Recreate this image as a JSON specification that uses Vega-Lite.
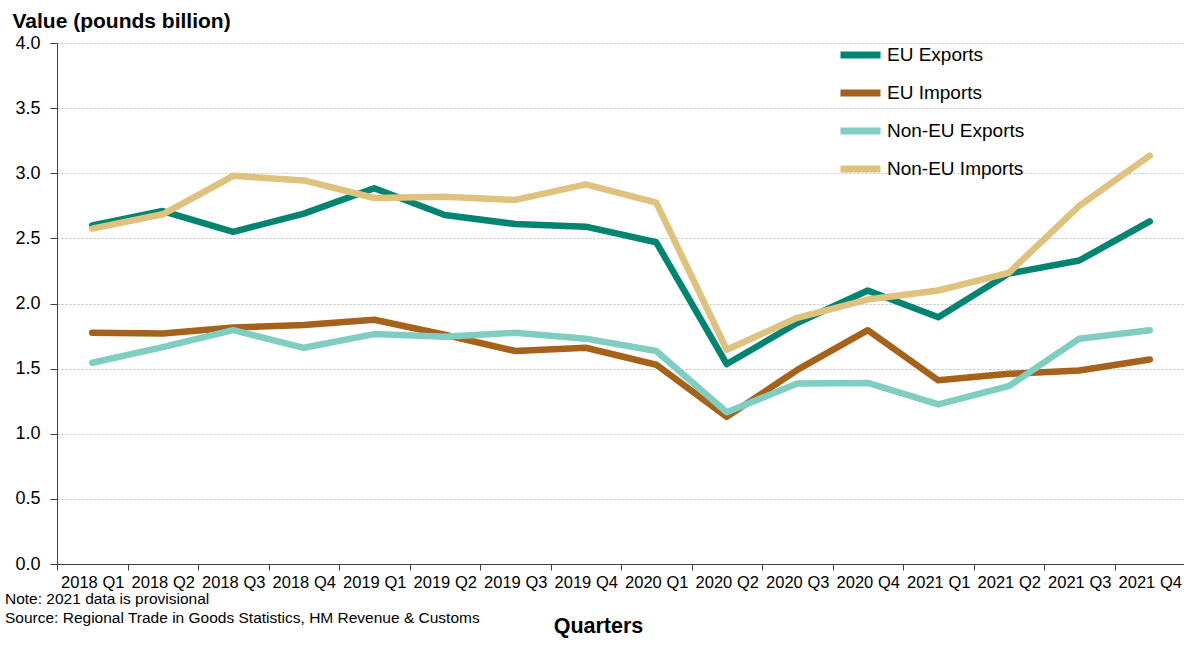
{
  "$schema": "https://vega.github.io/schema/vega-lite/v6.json",
  "autosize": {"type": "none"},
  "padding": {"left": 57, "top": 43, "right": 0, "bottom": 89},
  "width": 1128,
  "height": 521,
  "background": "white",
  "title": {
    "text": ["Note: 2021 data is provisional", "Source: Regional Trade in Goods Statistics, HM Revenue & Customs"],
    "orient": "bottom",
    "anchor": "start",
    "frame": "group",
    "dx": -52,
    "dy": -45,
    "offset": 0,
    "font": "Liberation Sans",
    "fontSize": 15.5,
    "fontWeight": "normal",
    "lineHeight": 19,
    "color": "#000000"
  },
  "config": {
    "view": {"stroke": null},
    "font": "Liberation Sans"
  },
  "data": {
    "values": [
      {"q": "2018 Q1", "series": "EU Exports", "v": 2.60},
      {"q": "2018 Q1", "series": "EU Imports", "v": 1.775},
      {"q": "2018 Q1", "series": "Non-EU Exports", "v": 1.545},
      {"q": "2018 Q1", "series": "Non-EU Imports", "v": 2.575},
      {"q": "2018 Q2", "series": "EU Exports", "v": 2.71},
      {"q": "2018 Q2", "series": "EU Imports", "v": 1.77},
      {"q": "2018 Q2", "series": "Non-EU Exports", "v": 1.665},
      {"q": "2018 Q2", "series": "Non-EU Imports", "v": 2.685},
      {"q": "2018 Q3", "series": "EU Exports", "v": 2.55},
      {"q": "2018 Q3", "series": "EU Imports", "v": 1.815},
      {"q": "2018 Q3", "series": "Non-EU Exports", "v": 1.795},
      {"q": "2018 Q3", "series": "Non-EU Imports", "v": 2.98},
      {"q": "2018 Q4", "series": "EU Exports", "v": 2.69},
      {"q": "2018 Q4", "series": "EU Imports", "v": 1.835},
      {"q": "2018 Q4", "series": "Non-EU Exports", "v": 1.66},
      {"q": "2018 Q4", "series": "Non-EU Imports", "v": 2.945},
      {"q": "2019 Q1", "series": "EU Exports", "v": 2.885},
      {"q": "2019 Q1", "series": "EU Imports", "v": 1.875},
      {"q": "2019 Q1", "series": "Non-EU Exports", "v": 1.765},
      {"q": "2019 Q1", "series": "Non-EU Imports", "v": 2.81},
      {"q": "2019 Q2", "series": "EU Exports", "v": 2.68},
      {"q": "2019 Q2", "series": "EU Imports", "v": 1.76},
      {"q": "2019 Q2", "series": "Non-EU Exports", "v": 1.745},
      {"q": "2019 Q2", "series": "Non-EU Imports", "v": 2.82},
      {"q": "2019 Q3", "series": "EU Exports", "v": 2.61},
      {"q": "2019 Q3", "series": "EU Imports", "v": 1.635},
      {"q": "2019 Q3", "series": "Non-EU Exports", "v": 1.775},
      {"q": "2019 Q3", "series": "Non-EU Imports", "v": 2.795},
      {"q": "2019 Q4", "series": "EU Exports", "v": 2.59},
      {"q": "2019 Q4", "series": "EU Imports", "v": 1.66},
      {"q": "2019 Q4", "series": "Non-EU Exports", "v": 1.73},
      {"q": "2019 Q4", "series": "Non-EU Imports", "v": 2.915},
      {"q": "2020 Q1", "series": "EU Exports", "v": 2.47},
      {"q": "2020 Q1", "series": "EU Imports", "v": 1.53},
      {"q": "2020 Q1", "series": "Non-EU Exports", "v": 1.635},
      {"q": "2020 Q1", "series": "Non-EU Imports", "v": 2.775},
      {"q": "2020 Q2", "series": "EU Exports", "v": 1.535},
      {"q": "2020 Q2", "series": "EU Imports", "v": 1.13},
      {"q": "2020 Q2", "series": "Non-EU Exports", "v": 1.165},
      {"q": "2020 Q2", "series": "Non-EU Imports", "v": 1.645},
      {"q": "2020 Q3", "series": "EU Exports", "v": 1.85},
      {"q": "2020 Q3", "series": "EU Imports", "v": 1.49},
      {"q": "2020 Q3", "series": "Non-EU Exports", "v": 1.385},
      {"q": "2020 Q3", "series": "Non-EU Imports", "v": 1.89},
      {"q": "2020 Q4", "series": "EU Exports", "v": 2.10},
      {"q": "2020 Q4", "series": "EU Imports", "v": 1.795},
      {"q": "2020 Q4", "series": "Non-EU Exports", "v": 1.39},
      {"q": "2020 Q4", "series": "Non-EU Imports", "v": 2.03},
      {"q": "2021 Q1", "series": "EU Exports", "v": 1.895},
      {"q": "2021 Q1", "series": "EU Imports", "v": 1.41},
      {"q": "2021 Q1", "series": "Non-EU Exports", "v": 1.225},
      {"q": "2021 Q1", "series": "Non-EU Imports", "v": 2.10},
      {"q": "2021 Q2", "series": "EU Exports", "v": 2.23},
      {"q": "2021 Q2", "series": "EU Imports", "v": 1.46},
      {"q": "2021 Q2", "series": "Non-EU Exports", "v": 1.365},
      {"q": "2021 Q2", "series": "Non-EU Imports", "v": 2.235},
      {"q": "2021 Q3", "series": "EU Exports", "v": 2.33},
      {"q": "2021 Q3", "series": "EU Imports", "v": 1.485},
      {"q": "2021 Q3", "series": "Non-EU Exports", "v": 1.73},
      {"q": "2021 Q3", "series": "Non-EU Imports", "v": 2.75},
      {"q": "2021 Q4", "series": "EU Exports", "v": 2.63},
      {"q": "2021 Q4", "series": "EU Imports", "v": 1.57},
      {"q": "2021 Q4", "series": "Non-EU Exports", "v": 1.795},
      {"q": "2021 Q4", "series": "Non-EU Imports", "v": 3.135}
    ]
  },
  "mark": {"type": "line", "strokeWidth": 6.5, "strokeCap": "round", "strokeJoin": "round"},
  "encoding": {
    "x": {
      "field": "q",
      "type": "ordinal",
      "sort": null,
      "scale": {"type": "band", "paddingInner": 0, "paddingOuter": 0},
      "axis": {
        "title": "Quarters",
        "titleFont": "Liberation Sans",
        "titleFontSize": 21.5,
        "titleFontWeight": "bold",
        "titleColor": "#000000",
        "titleAnchor": "start",
        "titleAlign": "center",
        "titleX": 541,
        "titleY": 68,
        "titleBaseline": "alphabetic",
        "labelAngle": 0,
        "labelFontSize": 16.5,
        "labelColor": "#000000",
        "labelPadding": 4,
        "labelOverlap": false,
        "labelFlush": false,
        "labelBound": false,
        "tickBand": "extent",
        "tickSize": 6,
        "tickColor": "#404040",
        "domainColor": "#404040",
        "domainWidth": 1,
        "grid": false
      }
    },
    "y": {
      "field": "v",
      "type": "quantitative",
      "scale": {"domain": [0, 4], "nice": false},
      "axis": {
        "values": [0, 0.5, 1, 1.5, 2, 2.5, 3, 3.5, 4],
        "format": ".1f",
        "title": "Value (pounds billion)",
        "titleFont": "Liberation Sans",
        "titleFontSize": 21,
        "titleFontWeight": "bold",
        "titleColor": "#000000",
        "titleAngle": 0,
        "titleAlign": "left",
        "titleBaseline": "alphabetic",
        "titleX": -45,
        "titleY": -16,
        "labelFontSize": 18,
        "labelColor": "#000000",
        "labelPadding": 10,
        "tickSize": 7,
        "tickColor": "#404040",
        "domainColor": "#404040",
        "grid": true,
        "gridColor": "#c0c0c0",
        "gridDash": [2, 2],
        "gridWidth": 1
      }
    },
    "color": {
      "field": "series",
      "type": "nominal",
      "scale": {
        "domain": ["EU Exports", "EU Imports", "Non-EU Exports", "Non-EU Imports"],
        "range": ["#018571", "#a6611a", "#80cdc1", "#dfc27d"]
      },
      "legend": {
        "title": null,
        "orient": "none",
        "legendX": 780,
        "legendY": -11.5,
        "symbolType": "stroke",
        "symbolSize": 1600,
        "symbolStrokeWidth": 7,
        "labelFontSize": 19,
        "labelColor": "#000000",
        "labelOffset": 3,
        "rowPadding": -14.7
      }
    }
  }
}
